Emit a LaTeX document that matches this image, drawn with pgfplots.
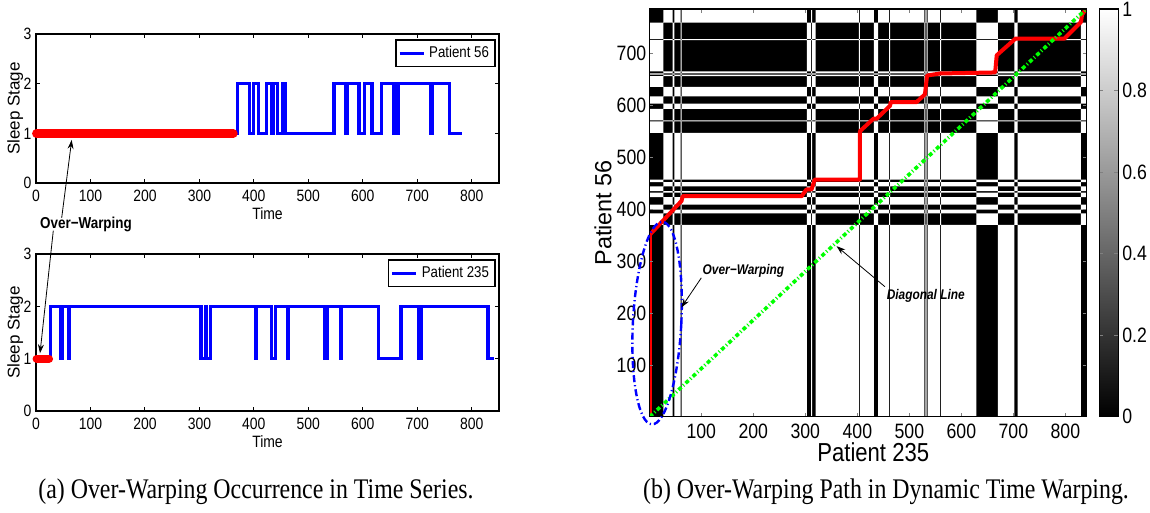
\documentclass[border=0pt]{standalone}
\usepackage{fontspec}
\setmainfont{Liberation Sans}[FakeStretch=0.85]
\newfontfamily\rotfont{Liberation Sans}
\newfontfamily\capfont{Liberation Serif}[FakeStretch=0.84]
\usepackage{pgfplots}
\pgfplotsset{compat=1.18}
\usetikzlibrary{arrows.meta}

\pgfplotsset{
  /pgf/number format/assume math mode=true,
  sleep/.style={
    scale only axis, width=231.5pt,
    xmin=0, xmax=850, ymin=0, ymax=3,
    xtick={0,100,...,800}, ytick={0,1,2,3},
    tick align=inside, major tick length=2pt,
    clip=false,
    axis line style={line width=0.8pt},
    tick style={line width=0.5pt, black},
    tick label style={font=\fontsize{8.2}{9}\selectfont},
    yticklabel style={xshift=1.2pt},
    xlabel={Time}, ylabel={Sleep Stage},
    xlabel style={font=\fontsize{8.2}{9}\selectfont, anchor=center},
    ylabel style={font=\rotfont\fontsize{8.5}{9}\selectfont,
      at={(axis description cs:-0.045,0.5)}, anchor=center},
    legend style={draw=black, line width=0.8pt, anchor=north east,
      font=\fontsize{7.8}{9}\selectfont, inner sep=1pt},
    legend cell align=left,
    legend image code/.code={\draw[#1] (0pt,0pt) -- (12pt,0pt);},
  },
}

\begin{document}
\begin{tikzpicture}
\useasboundingbox (0,0) rectangle (575pt,256.5pt);

% (a) top: patient 56
\begin{axis}[sleep, at={(18pt,164.85pt)}, anchor=south west, height=74.65pt,
  xlabel style={at={(axis description cs:0.5,-0.2)}},
  legend style={at={(0.993,0.965)}}]
\addplot[blue, line width=1.6pt, const plot] coordinates {
  (0,1) (370,2) (392,1) (399,2) (409,1) (423,2) (432,1) (435,2) (444,1)
  (452,2) (457,1) (547,2) (569,1) (571,2) (593,1) (603,2) (617,1) (635,2)
  (656,1) (659,2) (661,1) (665,2) (725,1) (727,2) (759,1) (783,1)};
\addlegendentry{Patient 56}
\addplot[red, line width=4.5pt, line cap=round, forget plot] coordinates {(1,1) (362,1)};
\end{axis}

% (a) bottom: patient 235
\begin{axis}[sleep, at={(18pt,51pt)}, anchor=south west, height=78.35pt,
  xlabel style={at={(axis description cs:0.5,-0.196)}},
  legend style={at={(0.993,0.968)}}]
\addplot[blue, line width=1.6pt, const plot] coordinates {
  (0,1) (27,2) (45,1) (48,2) (60,1) (62,2) (303,1) (311,2) (313,1) (320,2)
  (403,1) (405,2) (432,1) (440,2) (461,1) (463,2) (529,1) (531,2) (533,1)
  (535,2) (559,1) (561,2) (629,1) (670,2) (702,1) (708,2) (830,1) (840,1)};
\addlegendentry{Patient 235}
\addplot[red, line width=4pt, line cap=round, forget plot] coordinates {(1,1) (24,1)};
\end{axis}

% left annotation
\node[font=\bfseries\fontsize{7.9}{9}\selectfont] at (43pt,144.5pt) {Over−Warping};
\draw[-{Stealth[length=4.5pt,width=3pt]}, line width=0.4pt] (30.85pt,147.6pt) -- (35.85pt,186.5pt);
\draw[-{Stealth[length=4.5pt,width=3pt]}, line width=0.4pt] (26.65pt,141.2pt) -- (20pt,79.85pt);

% (b) DTW cost matrix
\begin{axis}[at={(324.65pt,48.15pt)}, anchor=south west, scale only axis,
  width=218.7pt, height=203.85pt,
  xmin=0, xmax=841, ymin=1, ymax=785,
  xtick={100,200,...,800}, ytick={100,200,...,700},
  axis background/.style={fill=black}, axis on top,
  tick align=inside, major tick length=2pt,
  axis line style={line width=0.6pt},
  tick label style={font=\fontsize{10.4}{12}\selectfont},
  yticklabel style={xshift=2pt},
  xlabel={Patient 235}, ylabel={Patient 56},
  xlabel style={font=\fontsize{13}{15}\selectfont,
    at={(axis description cs:0.512,-0.086)}, anchor=center},
  ylabel style={font=\rotfont\fontsize{11.7}{14}\selectfont,
    at={(axis description cs:-0.106,0.5)}, anchor=center},
  colormap={bw}{gray(0cm)=(0); gray(1cm)=(1)},
  point meta min=0, point meta max=1,
  colorbar,
  colorbar style={at={(1.0288,1)}, anchor=north west, width=9.5pt,
    ytick={0,0.2,...,1}, tick align=inside, major tick length=2pt,
    axis line style={line width=0.6pt},
    yticklabel style={font=\fontsize{10.4}{12}\selectfont, xshift=-1.5pt}},
]
% white where the two stages differ: stage-1 columns of patient 235 XOR stage-1 rows of patient 56
\addplot[draw=none, fill=white, even odd rule] coordinates {
  (-5,-20) (-5,800) (27,800) (27,-20)
  (45,-20) (45,800) (48,800) (48,-20)
  (60,-20) (60,800) (62,800) (62,-20)
  (303,-20) (303,800) (311,800) (311,-20)
  (313,-20) (313,800) (320,800) (320,-20)
  (403,-20) (403,800) (405,800) (405,-20)
  (432,-20) (432,800) (440,800) (440,-20)
  (461,-20) (461,800) (463,800) (463,-20)
  (529,-20) (529,800) (531,800) (531,-20)
  (533,-20) (533,800) (535,800) (535,-20)
  (559,-20) (559,800) (561,800) (561,-20)
  (629,-20) (629,800) (670,800) (670,-20)
  (702,-20) (702,800) (708,800) (708,-20)
  (830,-20) (830,800) (850,800) (850,-20)
  (-20,-5) (860,-5) (860,370) (-20,370)
  (-20,392) (860,392) (860,399) (-20,399)
  (-20,409) (860,409) (860,423) (-20,423)
  (-20,432) (860,432) (860,435) (-20,435)
  (-20,444) (860,444) (860,452) (-20,452)
  (-20,457) (860,457) (860,547) (-20,547)
  (-20,569) (860,569) (860,571) (-20,571)
  (-20,593) (860,593) (860,603) (-20,603)
  (-20,617) (860,617) (860,635) (-20,635)
  (-20,656) (860,656) (860,659) (-20,659)
  (-20,661) (860,661) (860,665) (-20,665)
  (-20,725) (860,725) (860,727) (-20,727)
  (-20,759) (860,759) (860,800) (-20,800)};
% warping path
\addplot[red, line width=2pt, line join=round] coordinates {
  (1,1) (1,351) (62,416) (64,425) (293,425) (302,438) (312,438) (318,457)
  (405,457) (405,550) (431,574) (437,574) (463,599) (464,606) (514,606)
  (530,621) (534,657) (559,661) (665,663) (668,696) (704,728) (798,728)
  (830,760) (832,774) (840,785)};
% diagonal
\addplot[green, line width=1.8pt, dash pattern=on 2pt off 1.2pt on 0.5pt off 1.2pt]
  coordinates {(1,1) (840,785)};
\coordinate (ellc) at (axis cs:15,181);
\coordinate (owc) at (axis cs:181,281);
\coordinate (owa) at (axis cs:100,268);
\coordinate (owb) at (axis cs:61.5,211);
\coordinate (dlc) at (axis cs:531.6,232.7);
\coordinate (dla) at (axis cs:453,251);
\coordinate (dlb) at (axis cs:360,329);
\end{axis}

\draw[blue, line width=1.2pt, dash pattern=on 3.5pt off 1.5pt on 0.6pt off 1.5pt,
  rotate around={-3:(ellc)}] (ellc) ellipse [x radius=12.1pt, y radius=50.7pt];
\node[font=\bfseries\itshape\fontsize{7}{8}\selectfont] at (owc) {Over−Warping};
\draw[-{Stealth[length=4.5pt,width=3pt]}, line width=0.4pt] (owa) -- (owb);
\node[font=\bfseries\itshape\fontsize{7}{8}\selectfont] at (dlc) {Diagonal Line};
\draw[-{Stealth[length=4.5pt,width=3pt]}, line width=0.4pt] (dla) -- (dlb);

% captions
\node[font=\capfont\fontsize{14.2}{16}\selectfont] at (128pt,10.5pt) {(a) Over-Warping Occurrence in Time Series.};
\node[font=\capfont\fontsize{14.2}{16}\selectfont] at (443pt,10.5pt) {(b) Over-Warping Path in Dynamic Time Warping.};
\end{tikzpicture}
\end{document}
